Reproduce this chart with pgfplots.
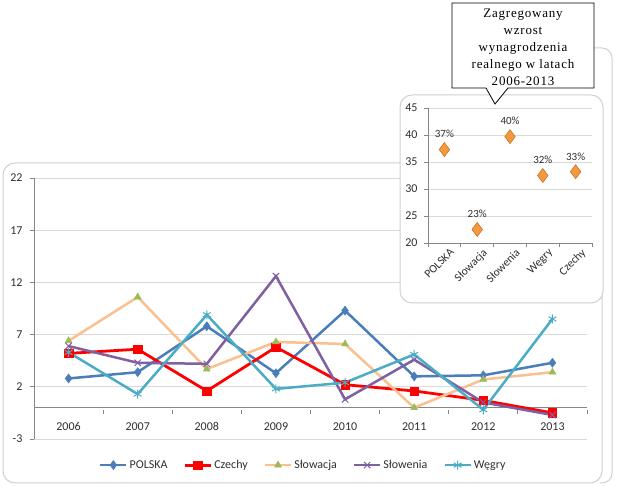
\documentclass[border=0pt]{standalone}
\usepackage{pgfplots}
\pgfplotsset{compat=1.18}
\usepackage{fontspec}
\setmainfont{Carlito}
\newfontfamily\serifcall[LetterSpace=6]{Liberation Serif}
\definecolor{cPol}{HTML}{4A7EBB}
\definecolor{cCz}{HTML}{FF0000}
\definecolor{cSkL}{HTML}{FAC090}
\definecolor{cSkM}{HTML}{9BBB59}
\definecolor{cSi}{HTML}{7F60A0}
\definecolor{cHu}{HTML}{4BACC6}
\definecolor{frame}{HTML}{D0D0D0}
\definecolor{axgray}{HTML}{868686}
\definecolor{gridc}{HTML}{D9D9D9}
\definecolor{txt}{HTML}{303030}
\definecolor{dia}{HTML}{F39A3E}
\definecolor{diad}{HTML}{C8681A}
\begin{document}
\begin{tikzpicture}[x=1pt,y=1pt]
\path[fill=white] (0,0) rectangle (617,486);
% outer partial frame (right)
\draw[frame,line width=1pt] (594,438) -- (602,438) arc[start angle=90,end angle=0,radius=10] -- (612,13) arc[start angle=0,end angle=-90,radius=10] -- (600,3);
% main frame
\draw[frame,line width=1pt,fill=white,rounded corners=12pt] (3,3) rectangle (602,323);
\begin{axis}[
  at={(34pt,47pt)}, anchor=south west,
  scale only axis, width=553pt, height=261pt,
  xmin=-0.5, xmax=7.5, ymin=-3, ymax=22,
  axis x line=middle, axis y line=left,
  axis line style={-, draw=axgray, line width=0.8pt},
  xtick={0,...,7},
  xticklabels={2006,2007,2008,2009,2010,2011,2012,2013},
  minor xtick={-0.5,0.5,...,7.5},
  major x tick style={draw=none},
  minor x tick style={draw=axgray, line width=0.8pt, yshift=-2pt},
  minor tick length=4pt,
  ytick={-3,2,...,22},
  major y tick style={draw=axgray, line width=0.8pt},
  major tick length=4pt,
  tick align=outside,
  ymajorgrids, grid style={gridc, line width=0.8pt},
  hide obscured x ticks=false,
  xticklabel style={yshift=-7pt, font=\fontsize{12}{14}\selectfont, text=txt},
  yticklabel style={xshift=-4pt, font=\fontsize{12}{14}\selectfont, text=txt},
  /pgf/number format/assume math mode=true,
  clip=false,
  legend columns=5,
  legend style={at={(0.487,-0.1)}, anchor=center, draw=none, fill=none,
    font=\fontsize{12}{14}\selectfont, text=txt,
    /tikz/every even column/.append style={column sep=14pt}},
  legend image code/.code={\draw[mark repeat=2,mark phase=2] plot coordinates {(0pt,0pt) (13pt,0pt) (26pt,0pt)};},
]
\addplot[cPol, line width=2.5pt, mark=diamond*, mark size=4.5pt, mark options={fill=cPol, line width=0.5pt}]
  coordinates {(0,2.8) (1,3.4) (2,7.8) (3,3.3) (4,9.3) (5,3.0) (6,3.1) (7,4.3)};
\addlegendentry{POLSKA}
\addplot[cCz, line width=2.8pt, mark=square*, mark size=4.2pt, mark options={fill=cCz, line width=0.5pt}]
  coordinates {(0,5.2) (1,5.6) (2,1.6) (3,5.8) (4,2.2) (5,1.6) (6,0.7) (7,-0.5)};
\addlegendentry{Czechy}
\addplot[cSkL, line width=2.5pt, mark=triangle*, mark size=4pt, mark options={fill=cSkM, draw=cSkM, line width=0.5pt}]
  coordinates {(0,6.4) (1,10.6) (2,3.7) (3,6.3) (4,6.1) (5,0.0) (6,2.7) (7,3.4)};
\addlegendentry{S\l{}owacja}
\addplot[cSi, line width=2.5pt, mark=x, mark size=4.5pt, mark options={line width=1pt}]
  coordinates {(0,5.9) (1,4.3) (2,4.2) (3,12.6) (4,0.8) (5,4.6) (6,0.5) (7,-0.7)};
\addlegendentry{S\l{}owenia}
\addplot[cHu, line width=2.5pt, mark=asterisk, mark size=4.5pt, mark options={line width=1pt}]
  coordinates {(0,5.3) (1,1.3) (2,8.9) (3,1.8) (4,2.4) (5,5.1) (6,-0.2) (7,8.5)};
\addlegendentry{W\k{e}gry}
\end{axis}
% inset frame
\draw[frame,line width=1pt,fill=white,rounded corners=12pt] (400,183) rectangle (603,391);
\begin{axis}[
  at={(428pt,243pt)}, anchor=south west,
  scale only axis, width=164pt, height=135pt,
  xmin=-0.5, xmax=4.5, ymin=20, ymax=45,
  axis x line=bottom, axis y line=left,
  axis line style={-, draw=axgray, line width=0.8pt},
  xtick={0,...,4},
  xticklabels={POLSKA,S\l{}owacja,S\l{}owenia,W\k{e}gry,Czechy},
  minor xtick={-0.5,0.5,...,4.5},
  major x tick style={draw=none},
  minor x tick style={draw=axgray, line width=0.8pt},
  minor tick length=4pt,
  ytick={20,25,...,45},
  major y tick style={draw=axgray, line width=0.8pt},
  major tick length=4pt,
  tick align=outside,
  ymajorgrids, grid style={gridc, line width=0.8pt},
  xticklabel style={rotate=45, anchor=north east, inner sep=1pt, xshift=4pt, yshift=-3pt, font=\fontsize{11.5}{13}\selectfont, text=txt},
  yticklabel style={xshift=-3pt, font=\fontsize{12}{14}\selectfont, text=txt},
  /pgf/number format/assume math mode=true,
  clip=false,
  nodes near coords, point meta=explicit symbolic,
  every node near coord/.append style={font=\fontsize{11}{13}\selectfont, text=txt, yshift=8pt},
]
\addplot[only marks, mark=diamond*, mark size=7pt, mark options={fill=dia, draw=diad, line width=0.5pt}]
  coordinates {(0,37.3)[37\%] (1,22.5)[23\%] (2,39.7)[40\%] (3,32.5)[32\%] (4,33.2)[33\%]};
\end{axis}
% callout
\draw[black, line width=0.8pt, fill=white] (452,398) -- (486,398) -- (495,382) -- (508,398) -- (594,398) -- (594,483) -- (452,483) -- cycle;
\node[align=center, font=\serifcall\fontsize{13}{17}\selectfont, text=black] at (523,438.5)
  {Zagregowany\\wzrost\\wynagrodzenia\\realnego w latach\\2006-2013};
\end{tikzpicture}
\end{document}
